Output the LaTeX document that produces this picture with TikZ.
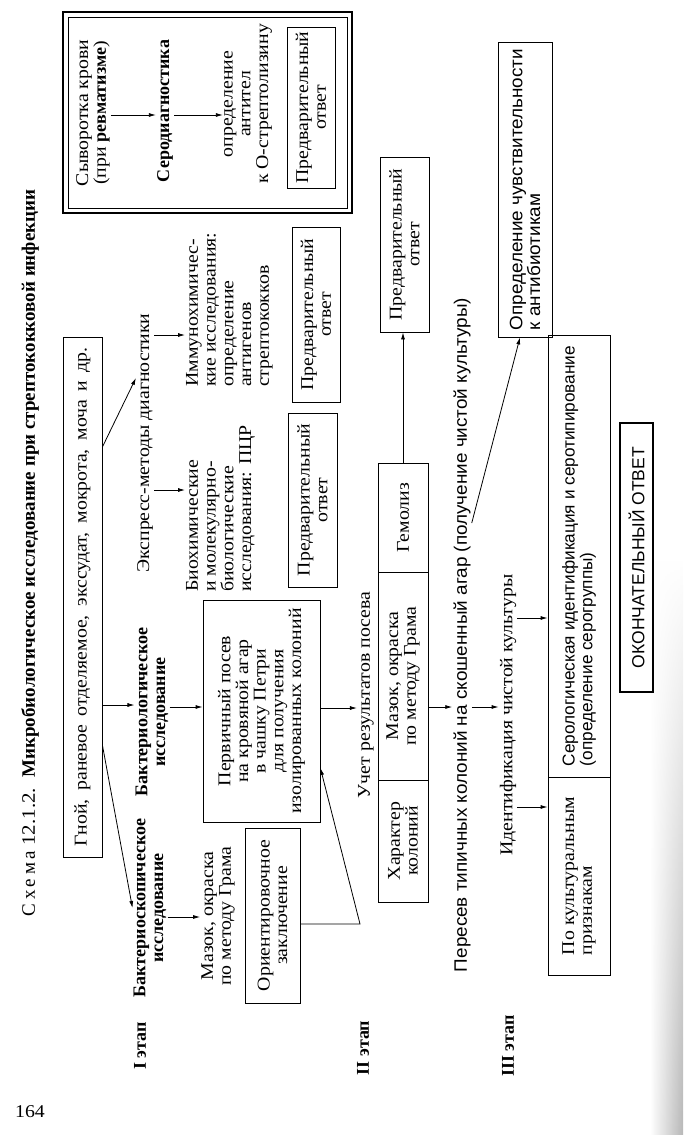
\documentclass[tikz,border=0pt]{standalone}
\usepackage{fontspec}
\setmainfont{Liberation Serif}[FakeStretch=1.1, BoldFeatures={FakeStretch=1.0}]
\setsansfont{Liberation Sans}[FakeStretch=1.05]
\newfontfamily\spacedfont{Liberation Serif}[LetterSpace=20]
\newfontfamily\capsans{Liberation Sans}
\usetikzlibrary{arrows.meta,fadings}
\newcommand\fsz{\fontsize{18}{17.7}\selectfont}
\begin{document}
\begin{tikzpicture}[x=1pt,y=-1pt,
  every node/.style={font=\fsz, inner sep=1pt},
  txt/.style={rotate=90, align=center},
  txtl/.style={rotate=90, align=left},
  bx/.style={draw, line width=0.8pt, rotate=90, align=center, inner sep=2pt},
  arr/.style={line width=0.8pt, -{Latex[length=7pt,width=4pt]}}]
\useasboundingbox (0,0) rectangle (683,1135);
\fill[white] (0,0) rectangle (683,1135);
\shade[left color=white, right color=black!28, path fading=north] (650,560) rectangle (683,1135);
% title and page
\node[txt, font=\fontsize{19}{20}\selectfont] (title) at (30,553) {{\spacedfont Схема} 12.1.2.\ \ \textbf{Микробиологическое исследование при стрептококковой инфекции}};
\node (page) at (30,1112) {164};
% stages
\node[txt, font=\fsz\bfseries] (st1) at (140,1046) {I этап};
\node[txt, font=\fsz\bfseries] (st2) at (363,1048) {II этап};
\node[txt, font=\fsz\bfseries] (st3) at (508,1046) {III этап};
% source
\node[bx, minimum width=520pt, minimum height=39pt] (src) at (82.5,597) {\makebox[498pt][s]{Гной, раневое отделяемое, экссудат, мокрота, моча и др.}};
% bacterioscopy
\node[txt, font=\fsz\bfseries] (bsk) at (150,908) {Бактериоскопическое\\исследование};
\node[txt] (maz1) at (218,916) {Мазок, окраска\\по методу Грама};
\node[bx, minimum width=175pt, minimum height=55pt] (ori) at (272.5,915.5) {Ориентировочное\\заключение};
\draw[arr] (src.south |- 0,745) -- (bsk.north);
\draw[arr] (bsk.south |- 0,917) -- (maz1.north |- 0,917);
% bacteriology
\node[txt, font=\fsz\bfseries] (bl) at (152,712) {Бактериологическое\\исследование};
\node[bx, minimum width=222pt, minimum height=117pt] (perv) at (261.5,711) {Первичный посев\\на кровяной агар\\в чашку Петри\\для получения\\изолированных колоний};
\coordinate (bend) at (360,924);
\draw[arr] (ori.south |- 0,924) -- (bend) -- (perv.south |- 0,768);
\draw[arr] (src.south |- 0,705) -- (bl.north |- 0,705);
\draw[arr] (bl.south |- 0,707) -- (perv.north |- 0,707);
\node[txt] (uch) at (366,695) {Учет результатов посева};
\draw[arr] (perv.south |- 0,708) -- (uch.north |- 0,708);
% results
\node[bx, minimum width=109pt, minimum height=50pt] (gem) at (403,517.5) {Гемолиз};
\node[bx, minimum width=208pt, minimum height=50pt] (maz2) at (403,676) {Мазок, окраска\\по методу Грама};
\node[bx, minimum width=122pt, minimum height=50pt] (har) at (403,841) {Характер\\колоний};
\node[bx, minimum width=175pt, minimum height=49pt] (pred2) at (404.5,244.5) {Предварительный\\ответ};
\draw[arr] (gem.east) -- (gem.east |- pred2.west);
% stage III
\node[txt, font=\fsz\sffamily] (per) at (462,635) {Пересев типичных колоний на скошенный агар (получение чистой культуры)};
\draw[arr] (maz2.south |- 0,707) -- (per.north |- 0,707);
\node[txt] (ide) at (508,715) {Идентификация чистой культуры};
\draw[arr] (per.south |- 0,707) -- (ide.north |- 0,707);
\node[bx, align=left, font=\fsz\sffamily, minimum width=295pt, minimum height=54pt] (opd) at (525,189.5) {Определение чувствительности\\к антибиотикам};
\draw[arr] (per.south |- 0,523) -- (520,0 |- opd.west);
\node[bx, align=left, minimum width=198pt, minimum height=62pt] (pok) at (579,876) {По культуральным\\признакам};
\node[bx, align=left, font=\fontsize{17.2}{17.7}\capsans, minimum width=442pt, minimum height=62pt] (ser) at (579,556) {Серологическая идентификация и серотипирование\\(определение серогруппы)};
\draw[arr] (ide.south |- 0,807) -- (pok.north |- 0,807);
\draw[arr] (ide.south |- 0,618) -- (ser.north |- 0,618);
\node[bx, line width=1.6pt, font=\fontsize{17.5}{18}\capsans, minimum width=269pt, minimum height=33pt] (fin) at (636.5,557.5) {ОКОНЧАТЕЛЬНЫЙ ОТВЕТ};
% express
\node[txt] (exp) at (145,443) {Экспресс-методы диагностики};
\draw[arr] (src.south |- 0,447) -- (exp.north |- 0,378);
\node[txtl, anchor=north west] (bio) at (185,593) {Биохимические\\и молекулярно-\\биологические\\исследования: ПЦР};
\node[txtl, anchor=north west] (imm) at (185,388) {Иммунохимичес-\\кие исследования:\\определение\\антигенов\\стрептококков};
\draw[arr] (exp.south |- 0,490) -- (bio.north |- 0,490);
\draw[arr] (exp.south |- 0,335) -- (imm.north |- 0,335);
\node[bx, minimum width=174pt, minimum height=49pt] (pr1) at (312.5,500) {Предварительный\\ответ};
\node[bx, minimum width=175pt, minimum height=48pt] (pr1b) at (316,314.5) {Предварительный\\ответ};
% serodiagnostics
\draw[line width=1.8pt] (63,12) rectangle (352,213);
\draw[line width=0.8pt] (68,17) rectangle (347,208);
\node[txt] (syv) at (93,113) {Сыворотка крови\\(при \textbf{ревматизме})};
\node[txt, font=\fsz\bfseries] (sed) at (165,111) {Серодиагностика};
\node[txt] (opa) at (248,104) {определение\\антител\\к О-стрептолизину};
\node[bx, minimum width=161pt, minimum height=48pt] (pr3) at (311,107.5) {Предварительный\\ответ};
\draw[arr] (syv.south |- 0,115) -- (sed.north |- 0,115);
\draw[arr] (sed.south |- 0,115) -- (opa.north |- 0,115);
\end{tikzpicture}
\end{document}
